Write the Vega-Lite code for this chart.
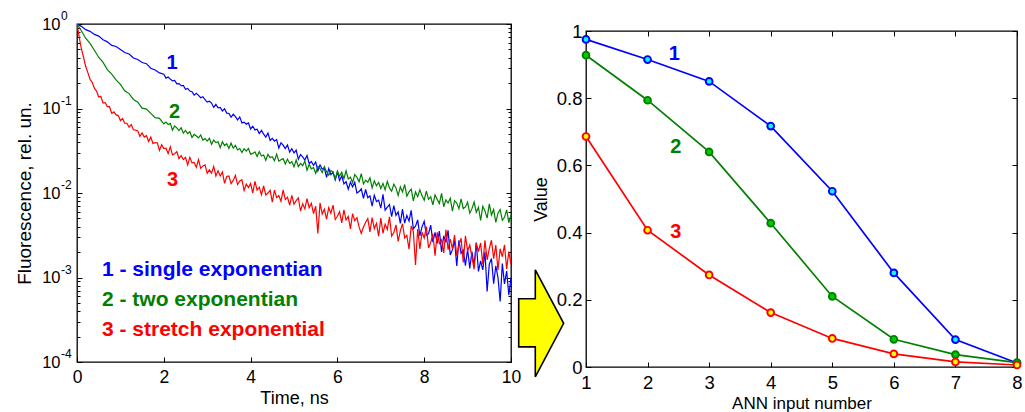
{
  "$schema": "https://vega.github.io/schema/vega-lite/v6.json",
  "background": "white",
  "autosize": {"type": "pad"},
  "padding": {"left": 14, "top": 9, "right": 0, "bottom": 0},
  "bounds": "flush",
  "spacing": 75,
  "config": {
    "font": "Liberation Sans",
    "view": {"stroke": "#000000", "strokeWidth": 1.3},
    "axis": {
      "domain": false, "grid": false, "labelColor": "#000000", "titleColor": "#000000",
      "tickColor": "#000000", "tickWidth": 1, "labelFont": "Liberation Sans", "titleFont": "Liberation Sans",
      "titleFontWeight": "normal", "labelOverlap": false, "labelFlush": false
    },
    "text": {"font": "Liberation Sans"}
  },
  "datasets": {
    "decay": [
      {"t":0,"s":"1","f":1},{"t":0.1,"s":"1","f":0.938},{"t":0.2,"s":"1","f":0.857},{"t":0.3,"s":"1","f":0.818},{"t":0.4,"s":"1","f":0.753},{"t":0.5,"s":"1","f":0.719},{"t":0.6,"s":"1","f":0.651},{"t":0.7,"s":"1","f":0.615},{"t":0.8,"s":"1","f":0.559},{"t":0.9,"s":"1","f":0.542},{"t":1,"s":"1","f":0.5},
      {"t":1.1,"s":"1","f":0.459},{"t":1.2,"s":"1","f":0.442},{"t":1.3,"s":"1","f":0.396},{"t":1.4,"s":"1","f":0.38},{"t":1.5,"s":"1","f":0.35},{"t":1.6,"s":"1","f":0.339},{"t":1.7,"s":"1","f":0.3},{"t":1.8,"s":"1","f":0.286},{"t":1.9,"s":"1","f":0.264},{"t":2,"s":"1","f":0.254},
      {"t":2.05,"s":"1","f":0.229},{"t":2.1,"s":"1","f":0.236},{"t":2.15,"s":"1","f":0.223},{"t":2.2,"s":"1","f":0.212},{"t":2.25,"s":"1","f":0.215},{"t":2.3,"s":"1","f":0.196},{"t":2.35,"s":"1","f":0.197},{"t":2.4,"s":"1","f":0.186},{"t":2.45,"s":"1","f":0.188},{"t":2.5,"s":"1","f":0.169},
      {"t":2.55,"s":"1","f":0.173},{"t":2.6,"s":"1","f":0.161},{"t":2.65,"s":"1","f":0.158},{"t":2.7,"s":"1","f":0.144},{"t":2.75,"s":"1","f":0.151},{"t":2.8,"s":"1","f":0.143},{"t":2.85,"s":"1","f":0.134},{"t":2.9,"s":"1","f":0.138},{"t":2.95,"s":"1","f":0.127},{"t":3,"s":"1","f":0.119},
      {"t":3.05,"s":"1","f":0.122},{"t":3.1,"s":"1","f":0.116},{"t":3.15,"s":"1","f":0.103},{"t":3.2,"s":"1","f":0.112},{"t":3.25,"s":"1","f":0.102},{"t":3.3,"s":"1","f":0.103},{"t":3.35,"s":"1","f":0.0935},{"t":3.4,"s":"1","f":0.0991},{"t":3.45,"s":"1","f":0.0882},{"t":3.5,"s":"1","f":0.0873},
      {"t":3.55,"s":"1","f":0.0791},{"t":3.6,"s":"1","f":0.0854},{"t":3.65,"s":"1","f":0.08},{"t":3.7,"s":"1","f":0.0734},{"t":3.75,"s":"1","f":0.0795},{"t":3.8,"s":"1","f":0.0676},{"t":3.85,"s":"1","f":0.069},{"t":3.9,"s":"1","f":0.0653},{"t":3.95,"s":"1","f":0.0675},{"t":4,"s":"1","f":0.0573},
      {"t":4.05,"s":"1","f":0.0617},{"t":4.1,"s":"1","f":0.0558},{"t":4.15,"s":"1","f":0.057},{"t":4.2,"s":"1","f":0.0505},{"t":4.25,"s":"1","f":0.0551},{"t":4.3,"s":"1","f":0.0498},{"t":4.35,"s":"1","f":0.0459},{"t":4.4,"s":"1","f":0.0511},{"t":4.45,"s":"1","f":0.042},{"t":4.5,"s":"1","f":0.0442},
      {"t":4.55,"s":"1","f":0.0411},{"t":4.6,"s":"1","f":0.0429},{"t":4.65,"s":"1","f":0.034},{"t":4.7,"s":"1","f":0.0393},{"t":4.75,"s":"1","f":0.0368},{"t":4.8,"s":"1","f":0.0335},{"t":4.85,"s":"1","f":0.0371},{"t":4.9,"s":"1","f":0.0305},{"t":4.95,"s":"1","f":0.0334},{"t":5,"s":"1","f":0.0298},
      {"t":5.05,"s":"1","f":0.0321},{"t":5.1,"s":"1","f":0.0251},{"t":5.15,"s":"1","f":0.0285},{"t":5.2,"s":"1","f":0.0268},{"t":5.25,"s":"1","f":0.0246},{"t":5.3,"s":"1","f":0.0278},{"t":5.35,"s":"1","f":0.0223},{"t":5.4,"s":"1","f":0.0236},{"t":5.45,"s":"1","f":0.0212},{"t":5.5,"s":"1","f":0.0233},
      {"t":5.55,"s":"1","f":0.0183},{"t":5.6,"s":"1","f":0.0215},{"t":5.65,"s":"1","f":0.0192},{"t":5.7,"s":"1","f":0.0197},{"t":5.75,"s":"1","f":0.0153},{"t":5.8,"s":"1","f":0.0195},{"t":5.85,"s":"1","f":0.0165},{"t":5.9,"s":"1","f":0.0176},{"t":5.95,"s":"1","f":0.0143},{"t":6,"s":"1","f":0.0177},
      {"t":6.05,"s":"1","f":0.0141},{"t":6.1,"s":"1","f":0.016},{"t":6.15,"s":"1","f":0.0128},{"t":6.2,"s":"1","f":0.0136},{"t":6.25,"s":"1","f":0.0111},{"t":6.3,"s":"1","f":0.0134},{"t":6.35,"s":"1","f":0.0118},{"t":6.4,"s":"1","f":0.0134},{"t":6.45,"s":"1","f":0.01},{"t":6.5,"s":"1","f":0.0104},
      {"t":6.55,"s":"1","f":0.0112},{"t":6.6,"s":"1","f":0.00864},{"t":6.65,"s":"1","f":0.011},{"t":6.7,"s":"1","f":0.00878},{"t":6.75,"s":"1","f":0.00923},{"t":6.8,"s":"1","f":0.00699},{"t":6.85,"s":"1","f":0.00938},{"t":6.9,"s":"1","f":0.00792},{"t":6.95,"s":"1","f":0.00823},{"t":7,"s":"1","f":0.00662},
      {"t":7.05,"s":"1","f":0.00963},{"t":7.1,"s":"1","f":0.00628},{"t":7.15,"s":"1","f":0.00681},{"t":7.2,"s":"1","f":0.00729},{"t":7.25,"s":"1","f":0.00526},{"t":7.3,"s":"1","f":0.0071},{"t":7.35,"s":"1","f":0.00543},{"t":7.4,"s":"1","f":0.00598},{"t":7.45,"s":"1","f":0.00438},{"t":7.5,"s":"1","f":0.00645},
      {"t":7.55,"s":"1","f":0.00441},{"t":7.6,"s":"1","f":0.00543},{"t":7.65,"s":"1","f":0.00465},{"t":7.7,"s":"1","f":0.00623},{"t":7.75,"s":"1","f":0.00377},{"t":7.8,"s":"1","f":0.00404},{"t":7.85,"s":"1","f":0.0048},{"t":7.9,"s":"1","f":0.00312},{"t":7.95,"s":"1","f":0.00397},{"t":8,"s":"1","f":0.00463},
      {"t":8.05,"s":"1","f":0.00315},{"t":8.1,"s":"1","f":0.0033},{"t":8.15,"s":"1","f":0.00416},{"t":8.2,"s":"1","f":0.00262},{"t":8.25,"s":"1","f":0.00343},{"t":8.3,"s":"1","f":0.00254},{"t":8.35,"s":"1","f":0.00355},{"t":8.4,"s":"1","f":0.00201},{"t":8.45,"s":"1","f":0.00311},{"t":8.5,"s":"1","f":0.0026},
      {"t":8.55,"s":"1","f":0.00361},{"t":8.6,"s":"1","f":0.00185},{"t":8.65,"s":"1","f":0.00212},{"t":8.7,"s":"1","f":0.00274},{"t":8.75,"s":"1","f":0.00137},{"t":8.8,"s":"1","f":0.00275},{"t":8.85,"s":"1","f":0.00193},{"t":8.9,"s":"1","f":0.00211},{"t":8.95,"s":"1","f":0.00138},{"t":9,"s":"1","f":0.00217},
      {"t":9.05,"s":"1","f":0.00128},{"t":9.1,"s":"1","f":0.00202},{"t":9.15,"s":"1","f":0.00138},{"t":9.2,"s":"1","f":0.00259},{"t":9.25,"s":"1","f":0.00118},{"t":9.3,"s":"1","f":0.00157},{"t":9.35,"s":"1","f":0.00123},{"t":9.4,"s":"1","f":0.00201},{"t":9.45,"s":"1","f":0.000683},{"t":9.5,"s":"1","f":0.00144},
      {"t":9.55,"s":"1","f":0.00168},{"t":9.6,"s":"1","f":0.000844},{"t":9.65,"s":"1","f":0.00137},{"t":9.7,"s":"1","f":0.001},{"t":9.75,"s":"1","f":0.00052},{"t":9.8,"s":"1","f":0.00146},{"t":9.85,"s":"1","f":0.000842},{"t":9.9,"s":"1","f":0.00119},{"t":9.95,"s":"1","f":0.000617},{"t":10,"s":"1","f":0.001},

      {"t":0,"s":"2","f":1},{"t":0.1,"s":"2","f":0.831},{"t":0.2,"s":"2","f":0.678},{"t":0.3,"s":"2","f":0.589},{"t":0.4,"s":"2","f":0.489},{"t":0.5,"s":"2","f":0.404},{"t":0.6,"s":"2","f":0.352},{"t":0.7,"s":"2","f":0.289},{"t":0.8,"s":"2","f":0.255},{"t":0.9,"s":"2","f":0.218},{"t":1,"s":"2","f":0.193},
      {"t":1.1,"s":"2","f":0.162},{"t":1.2,"s":"2","f":0.15},{"t":1.3,"s":"2","f":0.128},{"t":1.4,"s":"2","f":0.119},{"t":1.5,"s":"2","f":0.101},{"t":1.6,"s":"2","f":0.0985},{"t":1.7,"s":"2","f":0.0877},{"t":1.8,"s":"2","f":0.078},{"t":1.9,"s":"2","f":0.0765},{"t":2,"s":"2","f":0.0659},
      {"t":2.05,"s":"2","f":0.069},{"t":2.1,"s":"2","f":0.0647},{"t":2.15,"s":"2","f":0.0666},{"t":2.2,"s":"2","f":0.0555},{"t":2.25,"s":"2","f":0.062},{"t":2.3,"s":"2","f":0.059},{"t":2.35,"s":"2","f":0.0548},{"t":2.4,"s":"2","f":0.0593},{"t":2.45,"s":"2","f":0.0511},{"t":2.5,"s":"2","f":0.055},
      {"t":2.55,"s":"2","f":0.0505},{"t":2.6,"s":"2","f":0.0531},{"t":2.65,"s":"2","f":0.0453},{"t":2.7,"s":"2","f":0.0493},{"t":2.75,"s":"2","f":0.0473},{"t":2.8,"s":"2","f":0.0449},{"t":2.85,"s":"2","f":0.0487},{"t":2.9,"s":"2","f":0.0423},{"t":2.95,"s":"2","f":0.044},{"t":3,"s":"2","f":0.0412},
      {"t":3.05,"s":"2","f":0.0445},{"t":3.1,"s":"2","f":0.0378},{"t":3.15,"s":"2","f":0.0422},{"t":3.2,"s":"2","f":0.0395},{"t":3.25,"s":"2","f":0.0404},{"t":3.3,"s":"2","f":0.0344},{"t":3.35,"s":"2","f":0.0405},{"t":3.4,"s":"2","f":0.0365},{"t":3.45,"s":"2","f":0.0383},{"t":3.5,"s":"2","f":0.0337},
      {"t":3.55,"s":"2","f":0.0389},{"t":3.6,"s":"2","f":0.0339},{"t":3.65,"s":"2","f":0.0365},{"t":3.7,"s":"2","f":0.0323},{"t":3.75,"s":"2","f":0.0336},{"t":3.8,"s":"2","f":0.0301},{"t":3.85,"s":"2","f":0.0334},{"t":3.9,"s":"2","f":0.0313},{"t":3.95,"s":"2","f":0.0337},{"t":4,"s":"2","f":0.0288},
      {"t":4.05,"s":"2","f":0.0294},{"t":4.1,"s":"2","f":0.0307},{"t":4.15,"s":"2","f":0.027},{"t":4.2,"s":"2","f":0.0308},{"t":4.25,"s":"2","f":0.0274},{"t":4.3,"s":"2","f":0.0282},{"t":4.35,"s":"2","f":0.0244},{"t":4.4,"s":"2","f":0.0287},{"t":4.45,"s":"2","f":0.0263},{"t":4.5,"s":"2","f":0.0269},
      {"t":4.55,"s":"2","f":0.0241},{"t":4.6,"s":"2","f":0.0288},{"t":4.65,"s":"2","f":0.0238},{"t":4.7,"s":"2","f":0.0247},{"t":4.75,"s":"2","f":0.0255},{"t":4.8,"s":"2","f":0.0221},{"t":4.85,"s":"2","f":0.0252},{"t":4.9,"s":"2","f":0.0224},{"t":4.95,"s":"2","f":0.0234},{"t":5,"s":"2","f":0.0204},
      {"t":5.05,"s":"2","f":0.0246},{"t":5.1,"s":"2","f":0.0205},{"t":5.15,"s":"2","f":0.0224},{"t":5.2,"s":"2","f":0.021},{"t":5.25,"s":"2","f":0.0239},{"t":5.3,"s":"2","f":0.0186},{"t":5.35,"s":"2","f":0.0218},{"t":5.4,"s":"2","f":0.0193},{"t":5.45,"s":"2","f":0.02},{"t":5.5,"s":"2","f":0.0171},
      {"t":5.55,"s":"2","f":0.0207},{"t":5.6,"s":"2","f":0.0195},{"t":5.65,"s":"2","f":0.0175},{"t":5.7,"s":"2","f":0.0205},{"t":5.75,"s":"2","f":0.0179},{"t":5.8,"s":"2","f":0.0162},{"t":5.85,"s":"2","f":0.0185},{"t":5.9,"s":"2","f":0.0177},{"t":5.95,"s":"2","f":0.0145},{"t":6,"s":"2","f":0.0182},
      {"t":6.05,"s":"2","f":0.0159},{"t":6.1,"s":"2","f":0.0176},{"t":6.15,"s":"2","f":0.0148},{"t":6.2,"s":"2","f":0.0183},{"t":6.25,"s":"2","f":0.0147},{"t":6.3,"s":"2","f":0.0154},{"t":6.35,"s":"2","f":0.0133},{"t":6.4,"s":"2","f":0.0165},{"t":6.45,"s":"2","f":0.0153},{"t":6.5,"s":"2","f":0.0136},
      {"t":6.55,"s":"2","f":0.0169},{"t":6.6,"s":"2","f":0.0128},{"t":6.65,"s":"2","f":0.0142},{"t":6.7,"s":"2","f":0.0134},{"t":6.75,"s":"2","f":0.0151},{"t":6.8,"s":"2","f":0.0115},{"t":6.85,"s":"2","f":0.0139},{"t":6.9,"s":"2","f":0.0122},{"t":6.95,"s":"2","f":0.0133},{"t":7,"s":"2","f":0.0113},
      {"t":7.05,"s":"2","f":0.013},{"t":7.1,"s":"2","f":0.0109},{"t":7.15,"s":"2","f":0.0137},{"t":7.2,"s":"2","f":0.0115},{"t":7.25,"s":"2","f":0.0105},{"t":7.3,"s":"2","f":0.0127},{"t":7.35,"s":"2","f":0.0115},{"t":7.4,"s":"2","f":0.00933},{"t":7.45,"s":"2","f":0.0118},{"t":7.5,"s":"2","f":0.0103},
      {"t":7.55,"s":"2","f":0.0126},{"t":7.6,"s":"2","f":0.00916},{"t":7.65,"s":"2","f":0.0103},{"t":7.7,"s":"2","f":0.0111},{"t":7.75,"s":"2","f":0.00806},{"t":7.8,"s":"2","f":0.0103},{"t":7.85,"s":"2","f":0.00905},{"t":7.9,"s":"2","f":0.0109},{"t":7.95,"s":"2","f":0.00925},{"t":8,"s":"2","f":0.00821},
      {"t":8.05,"s":"2","f":0.0105},{"t":8.1,"s":"2","f":0.00841},{"t":8.15,"s":"2","f":0.00902},{"t":8.2,"s":"2","f":0.00724},{"t":8.25,"s":"2","f":0.00951},{"t":8.3,"s":"2","f":0.00841},{"t":8.35,"s":"2","f":0.00753},{"t":8.4,"s":"2","f":0.00989},{"t":8.45,"s":"2","f":0.00688},{"t":8.5,"s":"2","f":0.00831},
      {"t":8.55,"s":"2","f":0.00762},{"t":8.6,"s":"2","f":0.00867},{"t":8.65,"s":"2","f":0.00611},{"t":8.7,"s":"2","f":0.00812},{"t":8.75,"s":"2","f":0.00762},{"t":8.8,"s":"2","f":0.00651},{"t":8.85,"s":"2","f":0.00854},{"t":8.9,"s":"2","f":0.00654},{"t":8.95,"s":"2","f":0.00684},{"t":9,"s":"2","f":0.00778},
      {"t":9.05,"s":"2","f":0.00577},{"t":9.1,"s":"2","f":0.00653},{"t":9.15,"s":"2","f":0.00781},{"t":9.2,"s":"2","f":0.00592},{"t":9.25,"s":"2","f":0.00678},{"t":9.3,"s":"2","f":0.00473},{"t":9.35,"s":"2","f":0.00696},{"t":9.4,"s":"2","f":0.00614},{"t":9.45,"s":"2","f":0.00505},{"t":9.5,"s":"2","f":0.00743},
      {"t":9.55,"s":"2","f":0.00548},{"t":9.6,"s":"2","f":0.00637},{"t":9.65,"s":"2","f":0.0045},{"t":9.7,"s":"2","f":0.00577},{"t":9.75,"s":"2","f":0.00635},{"t":9.8,"s":"2","f":0.00474},{"t":9.85,"s":"2","f":0.00515},{"t":9.9,"s":"2","f":0.00632},{"t":9.95,"s":"2","f":0.00447},{"t":10,"s":"2","f":0.0055},

      {"t":0,"s":"3","f":1},{"t":0.025,"s":"3","f":0.841},{"t":0.05,"s":"3","f":0.708},{"t":0.075,"s":"3","f":0.596},{"t":0.1,"s":"3","f":0.513},{"t":0.125,"s":"3","f":0.452},{"t":0.15,"s":"3","f":0.407},{"t":0.175,"s":"3","f":0.355},{"t":0.2,"s":"3","f":0.316},
      {"t":0.25,"s":"3","f":0.266},{"t":0.3,"s":"3","f":0.222},{"t":0.35,"s":"3","f":0.204},{"t":0.4,"s":"3","f":0.174},{"t":0.45,"s":"3","f":0.161},{"t":0.5,"s":"3","f":0.137},
      {"t":0.55,"s":"3","f":0.139},{"t":0.6,"s":"3","f":0.116},{"t":0.65,"s":"3","f":0.117},{"t":0.7,"s":"3","f":0.105},{"t":0.75,"s":"3","f":0.105},{"t":0.8,"s":"3","f":0.0875},{"t":0.85,"s":"3","f":0.0911},{"t":0.9,"s":"3","f":0.084},{"t":0.95,"s":"3","f":0.0824},{"t":1,"s":"3","f":0.0719},
      {"t":1.05,"s":"3","f":0.0762},{"t":1.1,"s":"3","f":0.0669},{"t":1.15,"s":"3","f":0.0669},{"t":1.2,"s":"3","f":0.0601},{"t":1.25,"s":"3","f":0.0646},{"t":1.3,"s":"3","f":0.056},{"t":1.35,"s":"3","f":0.0555},{"t":1.4,"s":"3","f":0.0542},{"t":1.45,"s":"3","f":0.0468},{"t":1.5,"s":"3","f":0.0515},
      {"t":1.55,"s":"3","f":0.0459},{"t":1.6,"s":"3","f":0.0476},{"t":1.65,"s":"3","f":0.0407},{"t":1.7,"s":"3","f":0.0458},{"t":1.75,"s":"3","f":0.0386},{"t":1.8,"s":"3","f":0.0395},{"t":1.85,"s":"3","f":0.0393},{"t":1.9,"s":"3","f":0.0319},{"t":1.95,"s":"3","f":0.0373},{"t":2,"s":"3","f":0.0335},
      {"t":2.05,"s":"3","f":0.0339},{"t":2.1,"s":"3","f":0.0294},{"t":2.15,"s":"3","f":0.0352},{"t":2.2,"s":"3","f":0.0283},{"t":2.25,"s":"3","f":0.0292},{"t":2.3,"s":"3","f":0.0309},{"t":2.35,"s":"3","f":0.0255},{"t":2.4,"s":"3","f":0.0277},{"t":2.45,"s":"3","f":0.0249},{"t":2.5,"s":"3","f":0.0264},
      {"t":2.55,"s":"3","f":0.0215},{"t":2.6,"s":"3","f":0.0264},{"t":2.65,"s":"3","f":0.0227},{"t":2.7,"s":"3","f":0.023},{"t":2.75,"s":"3","f":0.0202},{"t":2.8,"s":"3","f":0.0248},{"t":2.85,"s":"3","f":0.0196},{"t":2.9,"s":"3","f":0.0209},{"t":2.95,"s":"3","f":0.0215},{"t":3,"s":"3","f":0.0171},
      {"t":3.05,"s":"3","f":0.0188},{"t":3.1,"s":"3","f":0.0172},{"t":3.15,"s":"3","f":0.0206},{"t":3.2,"s":"3","f":0.0159},{"t":3.25,"s":"3","f":0.0183},{"t":3.3,"s":"3","f":0.0159},{"t":3.35,"s":"3","f":0.0177},{"t":3.4,"s":"3","f":0.013},{"t":3.45,"s":"3","f":0.0157},{"t":3.5,"s":"3","f":0.0159},
      {"t":3.55,"s":"3","f":0.0129},{"t":3.6,"s":"3","f":0.0141},{"t":3.65,"s":"3","f":0.0162},{"t":3.7,"s":"3","f":0.0126},{"t":3.75,"s":"3","f":0.0139},{"t":3.8,"s":"3","f":0.0144},{"t":3.85,"s":"3","f":0.0107},{"t":3.9,"s":"3","f":0.0127},{"t":3.95,"s":"3","f":0.0116},{"t":4,"s":"3","f":0.013},
      {"t":4.05,"s":"3","f":0.01},{"t":4.1,"s":"3","f":0.0137},{"t":4.15,"s":"3","f":0.0108},{"t":4.2,"s":"3","f":0.0117},{"t":4.25,"s":"3","f":0.00956},{"t":4.3,"s":"3","f":0.0121},{"t":4.35,"s":"3","f":0.00948},{"t":4.4,"s":"3","f":0.01},{"t":4.45,"s":"3","f":0.0108},{"t":4.5,"s":"3","f":0.00778},
      {"t":4.55,"s":"3","f":0.0108},{"t":4.6,"s":"3","f":0.00882},{"t":4.65,"s":"3","f":0.00932},{"t":4.7,"s":"3","f":0.00797},{"t":4.75,"s":"3","f":0.0109},{"t":4.8,"s":"3","f":0.00836},{"t":4.85,"s":"3","f":0.00894},{"t":4.9,"s":"3","f":0.00719},{"t":4.95,"s":"3","f":0.00938},{"t":5,"s":"3","f":0.00736},
      {"t":5.05,"s":"3","f":0.00811},{"t":5.1,"s":"3","f":0.00875},{"t":5.15,"s":"3","f":0.00612},{"t":5.2,"s":"3","f":0.00747},{"t":5.25,"s":"3","f":0.00649},{"t":5.3,"s":"3","f":0.0086},{"t":5.35,"s":"3","f":0.0067},{"t":5.4,"s":"3","f":0.00754},{"t":5.45,"s":"3","f":0.00572},{"t":5.5,"s":"3","f":0.00698},
      {"t":5.55,"s":"3","f":0.00333},{"t":5.6,"s":"3","f":0.00764},{"t":5.65,"s":"3","f":0.00565},{"t":5.7,"s":"3","f":0.00644},{"t":5.75,"s":"3","f":0.00491},{"t":5.8,"s":"3","f":0.00671},{"t":5.85,"s":"3","f":0.00576},{"t":5.9,"s":"3","f":0.00719},{"t":5.95,"s":"3","f":0.00486},{"t":6,"s":"3","f":0.0053},
      {"t":6.05,"s":"3","f":0.00601},{"t":6.1,"s":"3","f":0.00442},{"t":6.15,"s":"3","f":0.0063},{"t":6.2,"s":"3","f":0.00479},{"t":6.25,"s":"3","f":0.00527},{"t":6.3,"s":"3","f":0.00376},{"t":6.35,"s":"3","f":0.00571},{"t":6.4,"s":"3","f":0.0047},{"t":6.45,"s":"3","f":0.0051},{"t":6.5,"s":"3","f":0.00394},
      {"t":6.55,"s":"3","f":0.00332},{"t":6.6,"s":"3","f":0.00396},{"t":6.65,"s":"3","f":0.00448},{"t":6.7,"s":"3","f":0.00499},{"t":6.75,"s":"3","f":0.00346},{"t":6.8,"s":"3","f":0.0051},{"t":6.85,"s":"3","f":0.00379},{"t":6.9,"s":"3","f":0.00437},{"t":6.95,"s":"3","f":0.00309},{"t":7,"s":"3","f":0.00505},
      {"t":7.05,"s":"3","f":0.00334},{"t":7.1,"s":"3","f":0.00428},{"t":7.15,"s":"3","f":0.0037},{"t":7.2,"s":"3","f":0.00521},{"t":7.25,"s":"3","f":0.00308},{"t":7.3,"s":"3","f":0.0034},{"t":7.35,"s":"3","f":0.0042},{"t":7.4,"s":"3","f":0.00268},{"t":7.45,"s":"3","f":0.00357},{"t":7.5,"s":"3","f":0.00433},
      {"t":7.55,"s":"3","f":0.00295},{"t":7.6,"s":"3","f":0.00316},{"t":7.65,"s":"3","f":0.00216},{"t":7.7,"s":"3","f":0.00407},{"t":7.75,"s":"3","f":0.00349},{"t":7.8,"s":"3","f":0.00141},{"t":7.85,"s":"3","f":0.00375},{"t":7.9,"s":"3","f":0.00218},{"t":7.95,"s":"3","f":0.00343},{"t":8,"s":"3","f":0.00293},
      {"t":8.05,"s":"3","f":0.004},{"t":8.1,"s":"3","f":0.00224},{"t":8.15,"s":"3","f":0.00258},{"t":8.2,"s":"3","f":0.00329},{"t":8.25,"s":"3","f":0.00181},{"t":8.3,"s":"3","f":0.00342},{"t":8.35,"s":"3","f":0.00254},{"t":8.4,"s":"3","f":0.00279},{"t":8.45,"s":"3","f":0.00195},{"t":8.5,"s":"3","f":0.00368},
      {"t":8.55,"s":"3","f":0.00213},{"t":8.6,"s":"3","f":0.00284},{"t":8.65,"s":"3","f":0.00218},{"t":8.7,"s":"3","f":0.00317},{"t":8.75,"s":"3","f":0.0018},{"t":8.8,"s":"3","f":0.0024},{"t":8.85,"s":"3","f":0.00291},{"t":8.9,"s":"3","f":0.00151},{"t":8.95,"s":"3","f":0.00311},{"t":9,"s":"3","f":0.00208},
      {"t":9.05,"s":"3","f":0.00242},{"t":9.1,"s":"3","f":0.00174},{"t":9.15,"s":"3","f":0.00125},{"t":9.2,"s":"3","f":0.00256},{"t":9.25,"s":"3","f":0.00203},{"t":9.3,"s":"3","f":0.00256},{"t":9.35,"s":"3","f":0.00144},{"t":9.4,"s":"3","f":0.00275},{"t":9.45,"s":"3","f":0.00162},{"t":9.5,"s":"3","f":0.0022},
      {"t":9.55,"s":"3","f":0.00276},{"t":9.6,"s":"3","f":0.00167},{"t":9.65,"s":"3","f":0.00242},{"t":9.7,"s":"3","f":0.00122},{"t":9.75,"s":"3","f":0.00219},{"t":9.8,"s":"3","f":0.00176},{"t":9.85,"s":"3","f":0.00243},{"t":9.9,"s":"3","f":0.00126},{"t":9.95,"s":"3","f":0.00203},{"t":10,"s":"3","f":0.00143}
    ],
    "ann": [
      {"n":1,"s":"1","v":0.975},{"n":2,"s":"1","v":0.915},{"n":3,"s":"1","v":0.85},{"n":4,"s":"1","v":0.717},{"n":5,"s":"1","v":0.523},{"n":6,"s":"1","v":0.28},{"n":7,"s":"1","v":0.0815},{"n":8,"s":"1","v":0.012},
      {"n":1,"s":"2","v":0.928},{"n":2,"s":"2","v":0.794},{"n":3,"s":"2","v":0.64},{"n":4,"s":"2","v":0.428},{"n":5,"s":"2","v":0.21},{"n":6,"s":"2","v":0.0824},{"n":7,"s":"2","v":0.037},{"n":8,"s":"2","v":0.013},
      {"n":1,"s":"3","v":0.686},{"n":2,"s":"3","v":0.407},{"n":3,"s":"3","v":0.274},{"n":4,"s":"3","v":0.162},{"n":5,"s":"3","v":0.085},{"n":6,"s":"3","v":0.039},{"n":7,"s":"3","v":0.015},{"n":8,"s":"3","v":0.006}
    ]
  },
  "hconcat": [
    {
      "width": 434,
      "height": 338,
      "resolve": {"axis": {"x": "independent", "y": "independent"}},
      "layer": [
        {
          "data": {"name": "decay"},
          "mark": {"type": "line", "strokeWidth": 1.2, "clip": true},
          "encoding": {
            "x": {"field": "t", "type": "quantitative", "scale": {"domain": [0, 10], "nice": false, "zero": false},
                  "axis": {"orient": "bottom", "values": [0, 2, 4, 6, 8, 10], "format": "d", "ticks": false, "tickSize": 0, "labelPadding": 6, "labelFontSize": 17.5, "title": "Time, ns", "titleFontSize": 18, "titlePadding": 4}},
            "y": {"field": "f", "type": "quantitative", "scale": {"type": "log", "domain": [0.0001, 1], "nice": false},
                  "axis": {"orient": "left", "values": [0.0001, 0.001, 0.01, 0.1, 1], "labelExpr": "'10'", "ticks": false, "tickSize": 0, "labelPadding": 17, "labelFontSize": 16.5, "labelBaseline": "middle", "title": "Fluorescence, rel. un.", "titleFontSize": 19, "titlePadding": 7}},
            "stroke": {"field": "s", "type": "nominal", "scale": {"domain": ["1", "2", "3"], "range": ["#0000ff", "#008000", "#ff0000"]}, "legend": null}
          }
        },
        {
          "data": {"values": [{"t": 0, "f": 1}]},
          "mark": {"type": "point", "opacity": 0},
          "encoding": {
            "x": {"field": "t", "type": "quantitative", "axis": {"orient": "bottom", "values": [0, 2, 4, 6, 8, 10], "labels": false, "tickSize": -5, "title": null}},
            "y": {"field": "f", "type": "quantitative", "axis": {"orient": "left", "values": [0.0001, 0.001, 0.01, 0.1, 1], "labels": false, "tickSize": -5, "title": null}}
          }
        },
        {
          "data": {"values": [{"t": 0, "f": 1}]},
          "mark": {"type": "point", "opacity": 0},
          "encoding": {
            "x": {"field": "t", "type": "quantitative", "axis": {"orient": "top", "values": [0, 2, 4, 6, 8, 10], "labels": false, "tickSize": -5, "title": null}},
            "y": {"field": "f", "type": "quantitative", "axis": {"orient": "right", "values": [0.0001, 0.001, 0.01, 0.1, 1], "labels": false, "tickSize": -5, "title": null}}
          }
        },
        {
          "data": {"values": [{"t": 0, "f": 1}]},
          "mark": {"type": "point", "opacity": 0},
          "encoding": {
            "x": {"field": "t", "type": "quantitative", "axis": null},
            "y": {"field": "f", "type": "quantitative", "axis": {"orient": "left", "values": [0.0002, 0.0003, 0.0004, 0.0005, 0.0006, 0.0007, 0.0008, 0.0009, 0.002, 0.003, 0.004, 0.005, 0.006, 0.007, 0.008, 0.009, 0.02, 0.03, 0.04, 0.05, 0.06, 0.07, 0.08, 0.09, 0.2, 0.3, 0.4, 0.5, 0.6, 0.7, 0.8, 0.9], "labels": false, "tickSize": -3, "title": null}}
          }
        },
        {
          "data": {"values": [{"t": 0, "f": 1}]},
          "mark": {"type": "point", "opacity": 0},
          "encoding": {
            "x": {"field": "t", "type": "quantitative", "axis": null},
            "y": {"field": "f", "type": "quantitative", "axis": {"orient": "right", "values": [0.0002, 0.0003, 0.0004, 0.0005, 0.0006, 0.0007, 0.0008, 0.0009, 0.002, 0.003, 0.004, 0.005, 0.006, 0.007, 0.008, 0.009, 0.02, 0.03, 0.04, 0.05, 0.06, 0.07, 0.08, 0.09, 0.2, 0.3, 0.4, 0.5, 0.6, 0.7, 0.8, 0.9], "labels": false, "tickSize": -3, "title": null}}
          }
        },
        {
          "data": {"values": [{"f": 1, "e": "0"}, {"f": 0.1, "e": "-1"}, {"f": 0.01, "e": "-2"}, {"f": 0.001, "e": "-3"}, {"f": 0.0001, "e": "-4"}]},
          "mark": {"type": "text", "align": "left", "baseline": "middle", "dx": -16, "dy": -8, "fontSize": 12, "color": "#000000"},
          "encoding": {
            "x": {"datum": 0, "type": "quantitative", "axis": null},
            "y": {"field": "f", "type": "quantitative", "axis": null},
            "text": {"field": "e"}
          }
        },
        {
          "data": {"values": [
            {"t": 2.19, "f": 0.343, "s": "1", "txt": "1"},
            {"t": 2.25, "f": 0.0916, "s": "2", "txt": "2"},
            {"t": 2.2, "f": 0.01426, "s": "3", "txt": "3"}
          ]},
          "mark": {"type": "text", "align": "center", "baseline": "middle", "fontSize": 20, "fontWeight": "bold"},
          "encoding": {
            "x": {"field": "t", "type": "quantitative", "axis": null},
            "y": {"field": "f", "type": "quantitative", "axis": null},
            "text": {"field": "txt"},
            "color": {"field": "s", "type": "nominal", "scale": {"domain": ["1", "2", "3"], "range": ["#0000ff", "#008000", "#ff0000"]}, "legend": null}
          }
        },
        {
          "data": {"values": [
            {"t": 0.576, "f": 0.00123, "s": "1", "txt": "1 - single exponentian"},
            {"t": 0.576, "f": 0.000542, "s": "2", "txt": "2 - two exponentian"},
            {"t": 0.576, "f": 0.000239, "s": "3", "txt": "3 - stretch exponential"}
          ]},
          "mark": {"type": "text", "align": "left", "baseline": "middle", "fontSize": 21, "fontWeight": "bold"},
          "encoding": {
            "x": {"field": "t", "type": "quantitative", "axis": null},
            "y": {"field": "f", "type": "quantitative", "axis": null},
            "text": {"field": "txt"},
            "color": {"field": "s", "type": "nominal", "scale": {"domain": ["1", "2", "3"], "range": ["#0000ff", "#008000", "#ff0000"]}, "legend": null}
          }
        }
      ]
    },
    {
      "spacing": 0,
      "bounds": "flush",
      "vconcat": [
        {
          "width": 431,
          "height": 7,
          "view": {"stroke": null},
          "data": {"values": [{}]},
          "mark": {"type": "point", "opacity": 0},
          "encoding": {}
        },
        {
          "width": 431,
          "height": 336,
          "resolve": {"axis": {"x": "independent", "y": "independent"}},
          "layer": [
            {
              "data": {"name": "ann"},
              "mark": {"type": "line", "strokeWidth": 1.7},
              "encoding": {
                "x": {"field": "n", "type": "quantitative", "scale": {"domain": [1, 8], "nice": false, "zero": false},
                      "axis": {"orient": "bottom", "values": [1, 2, 3, 4, 5, 6, 7, 8], "format": "d", "ticks": false, "tickSize": 0, "labelPadding": 6, "labelFontSize": 18.5, "title": "ANN input number", "titleFontSize": 17, "titlePadding": 4}},
                "y": {"field": "v", "type": "quantitative", "scale": {"domain": [0, 1], "nice": false, "zero": false},
                      "axis": {"orient": "left", "values": [0, 0.2, 0.4, 0.6, 0.8, 1], "format": "~g", "ticks": false, "tickSize": 0, "labelPadding": 4, "labelFontSize": 18.5, "labelBaseline": "middle", "title": "Value", "titleFontSize": 18, "titlePadding": 6}},
                "stroke": {"field": "s", "type": "nominal", "scale": {"domain": ["1", "2", "3"], "range": ["#0000ff", "#008000", "#ff0000"]}, "legend": null}
              }
            },
            {
              "data": {"name": "ann"},
              "mark": {"type": "circle", "size": 46, "strokeWidth": 1.9, "opacity": 1},
              "encoding": {
                "x": {"field": "n", "type": "quantitative", "axis": {"orient": "bottom", "values": [1, 2, 3, 4, 5, 6, 7, 8], "labels": false, "tickSize": -5, "title": null}},
                "y": {"field": "v", "type": "quantitative", "axis": {"orient": "left", "values": [0, 0.2, 0.4, 0.6, 0.8, 1], "labels": false, "tickSize": -5, "title": null}},
                "stroke": {"field": "s", "type": "nominal", "scale": {"domain": ["1", "2", "3"], "range": ["#0000ff", "#008000", "#ff0000"]}, "legend": null},
                "fill": {"field": "s", "type": "nominal", "scale": {"domain": ["1", "2", "3"], "range": ["#00ffff", "#00cc00", "#ffff00"]}, "legend": null}
              }
            },
            {
              "data": {"values": [{"n": 1, "v": 0}]},
              "mark": {"type": "point", "opacity": 0},
              "encoding": {
                "x": {"field": "n", "type": "quantitative", "axis": {"orient": "top", "values": [1, 2, 3, 4, 5, 6, 7, 8], "labels": false, "tickSize": -5, "title": null}},
                "y": {"field": "v", "type": "quantitative", "axis": {"orient": "right", "values": [0, 0.2, 0.4, 0.6, 0.8, 1], "labels": false, "tickSize": -5, "title": null}}
              }
            },
            {
              "data": {"values": [
                {"n": 2.435, "v": 0.933, "s": "1", "txt": "1"},
                {"n": 2.46, "v": 0.655, "s": "2", "txt": "2"},
                {"n": 2.46, "v": 0.402, "s": "3", "txt": "3"}
              ]},
              "mark": {"type": "text", "align": "center", "baseline": "middle", "fontSize": 20, "fontWeight": "bold"},
              "encoding": {
                "x": {"field": "n", "type": "quantitative", "axis": null},
                "y": {"field": "v", "type": "quantitative", "axis": null},
                "text": {"field": "txt"},
                "color": {"field": "s", "type": "nominal", "scale": {"domain": ["1", "2", "3"], "range": ["#0000ff", "#008000", "#ff0000"]}, "legend": null}
              }
            },
            {
              "data": {"values": [{}]},
              "mark": {"type": "point", "shape": "M-0.42,-0.46L-0.11,-0.46L-0.11,-1L0.42,0L-0.11,1L-0.11,0.44L-0.42,0.44Z", "size": 11449, "filled": true, "fill": "#ffff00", "stroke": "#000000", "strokeWidth": 1.6, "opacity": 1, "clip": false},
              "encoding": {
                "x": {"datum": 0.272, "type": "quantitative", "axis": null},
                "y": {"datum": 0.13, "type": "quantitative", "axis": null}
              }
            }
          ]
        }
      ]
    }
  ]
}
